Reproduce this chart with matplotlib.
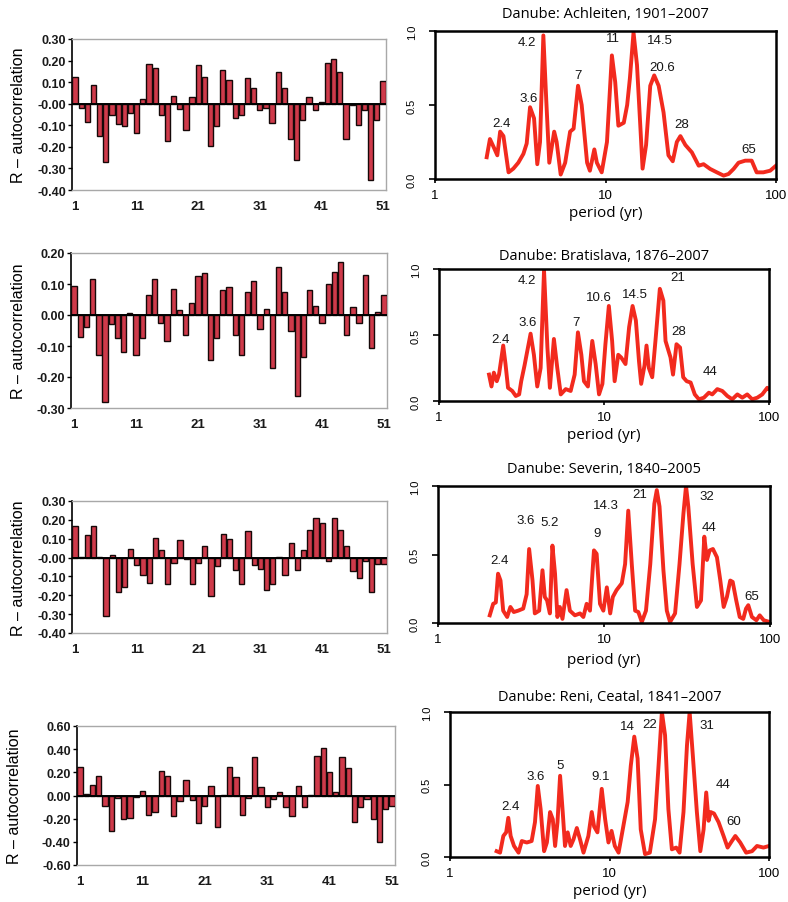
import numpy as np
import matplotlib
matplotlib.use('Agg')
import matplotlib.pyplot as plt
from matplotlib.ticker import FormatStrFormatter, NullLocator

W, H = 788, 903

# lags of the autocorrelation function
lags = np.arange(1, 52)
lag_ticks = [1, 11, 21, 31, 41, 51]

r_achleiten = [0.125, -0.02, -0.085, 0.085, -0.15, -0.27, -0.05, -0.095, -0.105, -0.045,
               -0.135, 0.02, 0.185, 0.165, -0.05, -0.175, 0.035, -0.025, -0.12, 0.03,
               0.18, 0.125, -0.195, -0.105, 0.155, 0.11, -0.065, -0.05, 0.12, 0.075,
               -0.03, -0.02, -0.09, 0.145, 0.075, -0.165, -0.26, -0.075, 0.03, -0.03,
               0.01, 0.19, 0.205, 0.145, -0.165, -0.005, -0.10, -0.03, -0.355, -0.075, 0.105]

r_bratislava = [0.095, -0.07, -0.04, 0.115, -0.13, -0.28, -0.03, -0.075, -0.12, 0.005,
                -0.13, -0.075, 0.065, 0.115, -0.025, -0.085, 0.085, 0.015, -0.065, 0.04,
                0.125, 0.135, -0.145, -0.075, 0.08, 0.09, -0.065, -0.13, 0.075, 0.11,
                -0.045, 0.02, -0.17, 0.155, 0.075, -0.05, -0.26, -0.135, 0.08, 0.03,
                -0.025, 0.10, 0.14, 0.17, -0.065, 0.025, -0.025, 0.13, -0.105, 0.01, 0.065]

r_severin = [0.17, 0.003, 0.12, 0.165, 0.002, -0.31, 0.015, -0.185, -0.155, 0.045,
             -0.04, -0.095, -0.135, 0.105, 0.04, -0.14, -0.03, 0.095, -0.01, -0.14,
             -0.03, 0.06, -0.205, -0.045, 0.125, 0.10, -0.065, -0.14, 0.14, -0.04,
             -0.06, -0.17, -0.14, 0.005, -0.095, 0.075, -0.065, 0.04, 0.145, 0.21,
             0.185, -0.02, 0.21, 0.145, 0.06, -0.07, -0.11, -0.02, -0.185, -0.035, -0.035]

r_reni = [0.25, 0.01, 0.09, 0.165, -0.09, -0.31, -0.02, -0.20, -0.19, -0.01,
          0.04, -0.17, -0.14, 0.21, 0.17, -0.18, -0.05, 0.13, -0.04, -0.24,
          -0.09, 0.08, -0.27, 0.005, 0.25, 0.16, -0.17, -0.02, 0.33, 0.07,
          -0.10, -0.03, 0.03, -0.10, -0.18, 0.08, -0.10, 0.003, 0.34, 0.41,
          0.20, 0.03, 0.33, 0.24, -0.23, -0.10, -0.03, -0.20, -0.40, -0.12, -0.09]

# normalised wavelet power vs period (yr)
p_achleiten = [2.01, 2.10, 2.22, 2.32, 2.41, 2.52, 2.70, 2.88, 3.08, 3.30, 3.45, 3.61, 3.81,
               3.98, 4.13, 4.32, 4.49, 4.68, 5.0, 5.17, 5.46, 5.80, 6.2, 6.5, 6.9, 7.25, 7.8,
               8.1, 8.6, 8.9, 9.5, 10.2, 10.9, 11.4, 11.9, 12.8, 13.4, 13.9, 14.6, 15.3, 16.0,
               16.5, 17.3, 18.3, 19.3, 20.5, 21.9, 23.4, 24.8, 26.2, 27.5, 29.4, 32.1, 35.2,
               37.6, 41.1, 45.0, 49.3, 52.7, 56.4, 60.3, 66.0, 72.0, 77.0, 84.3, 92.4, 100]
w_achleiten = [0.147, 0.27, 0.21, 0.16, 0.32, 0.29, 0.045, 0.07, 0.11, 0.17, 0.24, 0.485, 0.41,
               0.10, 0.25, 0.97, 0.54, 0.11, 0.32, 0.25, 0.03, 0.11, 0.32, 0.34, 0.63, 0.50, 0.11,
               0.056, 0.20, 0.11, 0.045, 0.25, 0.835, 0.655, 0.36, 0.38, 0.50, 0.68, 0.99, 0.77, 0.36,
               0.07, 0.23, 0.63, 0.70, 0.63, 0.45, 0.16, 0.12, 0.25, 0.29, 0.23, 0.18, 0.09,
               0.10, 0.068, 0.045, 0.023, 0.034, 0.068, 0.11, 0.124, 0.124, 0.045, 0.045, 0.056, 0.09]

p_bratislava = [2.01, 2.08, 2.15, 2.24, 2.31, 2.45, 2.53, 2.62, 2.78, 2.92, 3.06, 3.15, 3.30,
                3.59, 3.76, 3.94, 4.13, 4.33, 4.54, 4.70, 4.97, 5.21, 5.47, 5.86, 6.28, 6.64,
                6.95, 7.29, 7.56, 7.99, 8.49, 8.90, 9.33, 9.78, 10.2, 10.7, 11.2, 11.6, 12.2,
                12.7, 13.5, 14.2, 14.9, 15.6, 16.3, 16.8, 17.6, 18.1, 18.7, 19.6, 20.5, 21.8,
                22.9, 23.6, 25.3, 26.2, 27.5, 28.9, 30.2, 31.7, 33.5, 35.5, 37.6, 40.3, 43.2,
                45.3, 48.6, 52.1, 55.9, 59.9, 64.3, 68.9, 73.8, 79.1, 84.9, 91.0, 97.6, 100]
w_bratislava = [0.20, 0.11, 0.215, 0.15, 0.20, 0.42, 0.28, 0.10, 0.076, 0.038, 0.05, 0.15, 0.27,
                0.51, 0.35, 0.11, 0.25, 0.99, 0.405, 0.10, 0.47, 0.25, 0.05, 0.09, 0.076, 0.20,
                0.52, 0.35, 0.15, 0.11, 0.455, 0.28, 0.05, 0.13, 0.43, 0.72, 0.455, 0.15, 0.35,
                0.33, 0.28, 0.56, 0.72, 0.61, 0.30, 0.13, 0.27, 0.42, 0.25, 0.18, 0.455, 0.85,
                0.76, 0.455, 0.33, 0.20, 0.43, 0.405, 0.18, 0.15, 0.14, 0.05, 0.013, 0.025, 0.063,
                0.05, 0.09, 0.076, 0.038, 0.013, 0.05, 0.025, 0.05, 0.013, 0.025, 0.05, 0.10, 0.09]

p_severin = [2.05, 2.15, 2.23, 2.30, 2.38, 2.47, 2.61, 2.73, 2.86, 3.04, 3.26, 3.42, 3.54,
             3.71, 3.83, 4.07, 4.26, 4.40, 4.54, 4.72, 4.89, 5.07, 5.24, 5.42, 5.62, 5.95,
             6.23, 6.68, 7.17, 7.51, 7.86, 8.23, 8.70, 9.03, 9.46, 9.91, 10.4, 10.9, 11.3,
             11.9, 12.8, 13.4, 14.0, 14.7, 15.4, 16.1, 16.9, 17.9, 19.0, 20.1, 20.8, 21.6,
             22.8, 23.9, 25.0, 26.8, 28.5, 30.1, 31.2, 32.2, 34.2, 36.3, 38.4, 40.2, 41.7,
             43.3, 45.3, 47.9, 50.2, 52.6, 55.0, 57.6, 59.6, 62.6, 65.7, 69.0, 71.7, 74.0,
             77.8, 82.8, 86.7, 91.7, 100]
w_severin = [0.056, 0.14, 0.15, 0.36, 0.31, 0.09, 0.044, 0.117, 0.08, 0.09, 0.105, 0.21, 0.54,
             0.31, 0.07, 0.09, 0.385, 0.19, 0.165, 0.07, 0.565, 0.36, 0.044, 0.117, 0.03, 0.24,
             0.09, 0.056, 0.07, 0.044, 0.14, 0.09, 0.53, 0.505, 0.14, 0.09, 0.26, 0.07, 0.19,
             0.24, 0.29, 0.43, 0.82, 0.43, 0.09, 0.08, 0.007, 0.09, 0.43, 0.87, 0.97, 0.85,
             0.385, 0.09, 0.007, 0.07, 0.43, 0.80, 1.0, 0.85, 0.43, 0.117, 0.165, 0.63, 0.46,
             0.53, 0.54, 0.48, 0.31, 0.117, 0.19, 0.31, 0.30, 0.165, 0.044, 0.03, 0.105, 0.13,
             0.044, 0.02, 0.056, 0.02, 0.007]

p_reni = [1.96, 2.06, 2.16, 2.25, 2.32, 2.40, 2.52, 2.69, 2.82, 3.03, 3.25, 3.41, 3.55,
          3.70, 3.89, 4.05, 4.24, 4.41, 4.56, 4.72, 4.90, 5.09, 5.26, 5.47, 5.71, 5.94,
          6.24, 6.54, 6.87, 7.37, 7.74, 8.01, 8.40, 8.94, 9.39, 9.85, 10.3, 10.8, 11.4,
          12.2, 13.0, 13.6, 14.3, 15.0, 15.7, 16.7, 17.9, 19.3, 20.3, 21.3, 22.3, 23.4,
          24.6, 26.2, 27.5, 29.1, 30.6, 31.8, 33.3, 35.3, 37.1, 38.9, 40.4, 41.8, 43.1,
          45.2, 48.3, 51.9, 55.0, 58.5, 61.5, 66.0, 71.9, 78.3, 84.1, 92.3, 100]
w_reni = [0.04, 0.03, 0.145, 0.17, 0.27, 0.145, 0.076, 0.03, 0.11, 0.10, 0.11, 0.24, 0.49,
          0.33, 0.04, 0.10, 0.31, 0.26, 0.076, 0.24, 0.56, 0.31, 0.076, 0.17, 0.076, 0.12,
          0.20, 0.12, 0.03, 0.145, 0.31, 0.21, 0.17, 0.47, 0.26, 0.10, 0.18, 0.076, 0.03,
          0.21, 0.38, 0.63, 0.83, 0.68, 0.19, 0.02, 0.03, 0.26, 0.63, 1.0, 0.84, 0.33,
          0.053, 0.065, 0.03, 0.31, 0.77, 1.0, 0.70, 0.31, 0.04, 0.19, 0.445, 0.25, 0.31,
          0.30, 0.24, 0.145, 0.065, 0.11, 0.145, 0.10, 0.03, 0.04, 0.076, 0.065, 0.076]

titles = ['Danube: Achleiten, 1901\u20132007', 'Danube: Bratislava, 1876\u20132007',
          'Danube: Severin, 1840\u20132005', 'Danube: Reni, Ceatal, 1841\u20132007']

# dominant periods written next to the peaks
peaks_achleiten = ['2.4', '3.6', '4.2', '7', '11', '14.5', '20.6', '28', '65']
peaks_bratislava = ['2.4', '3.6', '4.2', '7', '10.6', '14.5', '21', '28', '44']
peaks_severin = ['2.4', '3.6', '5.2', '9', '14.3', '21', '32', '44', '65']
peaks_reni = ['2.4', '3.6', '5', '9.1', '14', '22', '31', '44', '60']

# where each peak label sits (period, power)
pos_achleiten = [(2.46, 0.38), (3.53, 0.55), (3.45, 0.925), (6.9, 0.70), (11.0, 0.95),
                 (20.8, 0.94), (21.4, 0.76), (28.1, 0.37), (69, 0.20)]
pos_bratislava = [(2.37, 0.47), (3.43, 0.60), (3.40, 0.92), (6.73, 0.60), (9.33, 0.785),
                  (15.4, 0.81), (27.8, 0.94), (28.5, 0.53), (43.9, 0.23)]
pos_severin = [(2.36, 0.46), (3.38, 0.75), (4.67, 0.74), (9.03, 0.66), (10.3, 0.86),
               (16.5, 0.94), (41.6, 0.93), (43.2, 0.70), (78.0, 0.20)]
pos_reni = [(2.38, 0.35), (3.46, 0.56), (4.90, 0.635), (8.76, 0.56), (13.0, 0.90),
            (17.8, 0.92), (40.7, 0.91), (51.5, 0.50), (59.9, 0.25)]


def px_rect(x0, y0, x1, y1):
    return [x0 / W, 1 - y1 / H, (x1 - x0) / W, (y1 - y0) / H]


def acf_panel(rect, r, ylim, ystep, label_x):
    ax = fig.add_axes(px_rect(*rect))
    ax.bar(lags, r, width=0.85, color='#cf3a4a', edgecolor='#150808', linewidth=1.0, zorder=3)
    ax.axhline(0, color='black', lw=1.4, zorder=4)
    ax.set_xlim(0.5, 51.5)
    ax.set_ylim(*ylim)
    ax.set_yticks(np.arange(ylim[0], ylim[1] + 1e-9, ystep))
    ax.yaxis.set_major_formatter(FormatStrFormatter('%.2f'))
    ax.set_xticks(lag_ticks)
    ax.tick_params(axis='x', length=0, pad=7, labelsize=9.5)
    ax.tick_params(axis='y', length=3, width=1, pad=1.5, labelsize=9)
    for lbl in ax.get_xticklabels() + ax.get_yticklabels():
        lbl.set_fontweight('bold')
        lbl.set_color('#1a1a1a')
    for s in ['top', 'right', 'bottom']:
        ax.spines[s].set_color('#a8a8a8')
        ax.spines[s].set_linewidth(1.0)
    ax.spines['left'].set_linewidth(1.2)
    ymid = (rect[1] + rect[3]) / 2
    fig.text(label_x / W, 1 - ymid / H, 'R \u2013 autocorrelation', rotation=90,
             ha='center', va='center', fontsize=11.5)
    return ax


def spectrum_panel(rect, period, power, title, peaks, pos, title_y, xlabel_y):
    ax = fig.add_axes(px_rect(*rect))
    ax.plot(period, power, color='#f22a1e', lw=2.8, solid_joinstyle='round')
    ax.set_xscale('log')
    ax.set_xlim(1, 100)
    ax.set_ylim(0, 1)
    ax.set_xticks([1, 10, 100], labels=['1', '10', '100'])
    ax.xaxis.set_minor_locator(NullLocator())
    ax.set_yticks([0, 0.5, 1.0], labels=['0.0', '0.5', '1.0'])
    ax.tick_params(axis='y', length=4, width=1.2, pad=9, labelsize=8, labelrotation=90)
    ax.tick_params(axis='x', length=3, width=1.2, pad=4, labelsize=9.5)
    for lbl in ax.get_yticklabels():
        lbl.set_va('center')
    for s in ax.spines.values():
        s.set_linewidth(1.8)
    for txt, (px, py) in zip(peaks, pos):
        ax.text(px, py, txt, ha='center', va='center', fontsize=9.5, color='#151515')
    xmid = (rect[0] + rect[2]) / 2
    fig.text(xmid / W, 1 - title_y / H, title, ha='center', va='center', fontsize=10.5,
             family='Open Sans')
    fig.text(xmid / W, 1 - xlabel_y / H, 'period (yr)', ha='center', va='center', fontsize=11,
             family='Open Sans')
    return ax


plt.rcParams['font.family'] = ['Liberation Sans', 'DejaVu Sans']
fig = plt.figure(figsize=(W / 100, H / 100), dpi=100)

acf_panel((72, 40, 386, 191), r_achleiten, (-0.4, 0.3), 0.1, 19)
acf_panel((71, 254, 387, 409), r_bratislava, (-0.3, 0.2), 0.1, 19)
acf_panel((72, 502, 387, 634), r_severin, (-0.4, 0.3), 0.1, 19)
acf_panel((77, 727, 395, 866), r_reni, (-0.6, 0.6), 0.2, 15)

spectrum_panel((435, 32, 776, 180), p_achleiten, w_achleiten, titles[0],
               peaks_achleiten, pos_achleiten, 15, 214)
spectrum_panel((439, 270, 769, 402), p_bratislava, w_bratislava, titles[1],
               peaks_bratislava, pos_bratislava, 257, 436)
spectrum_panel((438, 487, 770, 624), p_severin, w_severin, titles[2],
               peaks_severin, pos_severin, 470, 660)
spectrum_panel((450, 713, 769, 858), p_reni, w_reni, titles[3],
               peaks_reni, pos_reni, 698, 892)

fig.savefig('out.png', dpi=100)
